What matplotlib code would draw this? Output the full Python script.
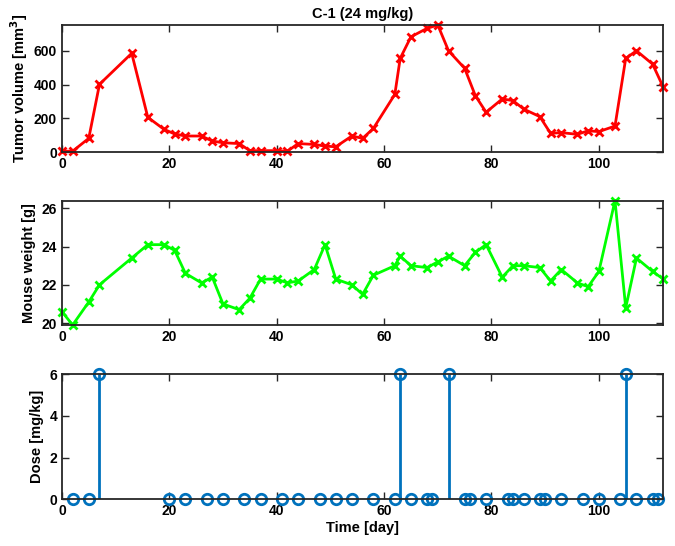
import matplotlib
matplotlib.use('Agg')
import matplotlib.pyplot as plt
import numpy as np

# measurement days (shared by tumor volume and weight)
days = [0, 2, 5, 7, 13, 16, 19, 21, 23, 26, 28, 30, 33, 35, 37, 40, 42, 44, 47, 49,
        51, 54, 56, 58, 62, 63, 65, 68, 70, 72, 75, 77, 79, 82, 84, 86, 89, 91, 93,
        96, 98, 100, 103, 105, 107, 110, 112]

tumor_volume = [5, 5, 81, 402, 586, 206, 135, 107, 95, 95, 65, 55, 50, 8, 8, 8, 5,
                50, 45, 35, 31, 95, 81, 140, 342, 556, 684, 734, 754, 601, 497, 334,
                236, 315, 305, 255, 210, 111, 115, 105, 126, 121, 154, 556, 601, 522,
                384]

mouse_weight = [20.6, 19.9, 21.1, 22.0, 23.4, 24.1, 24.1, 23.8, 22.6, 22.1, 22.4,
                21.0, 20.7, 21.3, 22.3, 22.3, 22.1, 22.2, 22.8, 24.1, 22.3, 22.0,
                21.5, 22.5, 23.0, 23.5, 23.0, 22.9, 23.2, 23.5, 23.0, 23.7, 24.1,
                22.4, 23.0, 23.0, 22.9, 22.2, 22.8, 22.1, 21.9, 22.7, 26.4, 20.8,
                23.4, 22.7, 22.3]

dose_days = [2, 5, 7, 20, 23, 27, 30, 34, 37, 41, 44, 48, 51, 54, 58, 62, 63, 65, 68,
             69, 72, 75, 76, 79, 83, 84, 86, 89, 90, 93, 97, 100, 104, 105, 107, 110,
             111]
dose = [0, 0, 6, 0, 0, 0, 0, 0, 0, 0, 0, 0, 0, 0, 0, 0, 6, 0, 0,
        0, 6, 0, 0, 0, 0, 0, 0, 0, 0, 0, 0, 0, 0, 6, 0, 0, 0]

plt.rcParams['font.family'] = ['Liberation Sans', 'DejaVu Sans']
plt.rcParams['font.weight'] = 'bold'
plt.rcParams['font.size'] = 10
plt.rcParams['mathtext.default'] = 'bf'

axcol = (0.15, 0.15, 0.15)

fig = plt.figure(figsize=(6.75, 5.46), dpi=100)
ax1 = fig.add_axes([0.0917, 0.7216, 0.891, 0.2326])
ax2 = fig.add_axes([0.0917, 0.4048, 0.891, 0.2277])
ax3 = fig.add_axes([0.0917, 0.0855, 0.891, 0.2290])


def style(ax):
    ax.set_xlim(0, 112)
    ax.set_xticks(np.arange(0, 101, 20))
    ax.tick_params(direction='in', top=True, right=True, length=5, width=1,
                   colors=axcol, labelcolor='black', labelsize=10)
    for s in ax.spines.values():
        s.set_linewidth(1.3)
        s.set_color(axcol)


ax1.plot(days, tumor_volume, '-x', color='red', lw=2, ms=6, mew=2, clip_on=False)
ax1.set_ylim(0, 754)
ax1.set_yticks([0, 200, 400, 600])
ax1.set_ylabel('Tumor volume [mm$^3$]', fontsize=10.5, fontweight='bold', labelpad=3)
ax1.set_title('C-1 (24 mg/kg)', fontsize=10.5, fontweight='bold', pad=5)
style(ax1)

ax2.plot(days, mouse_weight, '-x', color=(0, 1, 0), lw=2, ms=6, mew=2, clip_on=False)
ax2.set_ylim(19.9, 26.4)
ax2.set_yticks([20, 22, 24, 26])
ax2.set_ylabel('Mouse weight [g]', fontsize=10.5, fontweight='bold')
style(ax2)

blue = (0, 0.447, 0.741)
ml, sl, bl = ax3.stem(dose_days, dose, basefmt=' ')
ml.set_color(blue)
ml.set_markerfacecolor('none')
ml.set_markersize(7.5)
ml.set_markeredgewidth(2)
ml.set_clip_on(False)
sl.set_color(blue)
sl.set_linewidth(2)
ax3.set_ylim(0, 6)
ax3.set_yticks([0, 2, 4, 6])
ax3.set_ylabel('Dose [mg/kg]', fontsize=10.5, fontweight='bold')
ax3.set_xlabel('Time [day]', fontsize=10.5, fontweight='bold', labelpad=2)
style(ax3)

fig.savefig('out.png', dpi=100)
